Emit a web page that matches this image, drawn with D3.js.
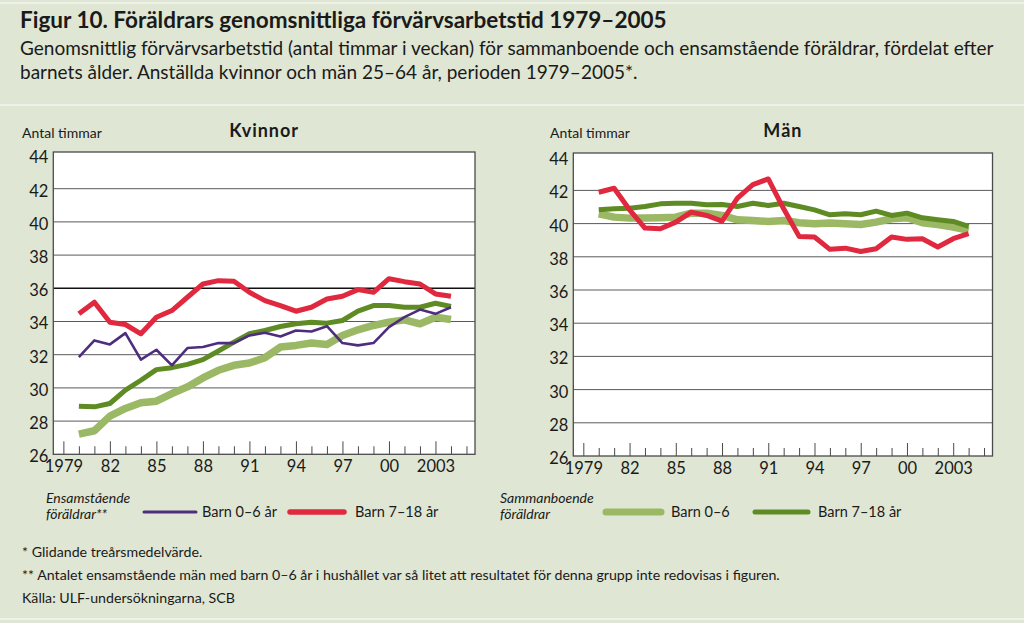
<!DOCTYPE html>
<html>
<head>
<meta charset="utf-8">
<script src="https://cdn.jsdelivr.net/npm/d3@7"></script>
<style>
  html, body { margin: 0; padding: 0; background: #dfe6d3; }
  svg { display: block; font-family: Lato, "Open Sans", sans-serif; }
</style>
</head>
<body>
<svg id="chart" width="1024" height="623"></svg>
<script>
// ---------- DATA ----------
const years = [1980,1981,1982,1983,1984,1985,1986,1987,1988,1989,1990,1991,1992,1993,1994,1995,1996,1997,1998,1999,2000,2001,2002,2003,2004];
const tickYears = [1979,1980,1981,1982,1983,1984,1985,1986,1987,1988,1989,1990,1991,1992,1993,1994,1995,1996,1997,1998,1999,2000,2001,2002,2003,2004,2005];
const labelYears = [1979,1982,1985,1988,1991,1994,1997,2000,2003];
const labelTexts = ["1979","82","85","88","91","94","97","00","2003"];
const yTicks = [26,28,30,32,34,36,38,40,42,44];

// Kvinnor
const kvEnsam06  = [31.86,32.86,32.62,33.30,31.70,32.30,31.36,32.40,32.46,32.70,32.70,33.16,33.32,33.10,33.46,33.40,33.72,32.70,32.56,32.70,33.66,34.26,34.72,34.46,34.86];
const kvEnsam718 = [34.46,35.16,33.96,33.82,33.26,34.26,34.66,35.46,36.26,36.46,36.42,35.76,35.26,34.96,34.62,34.86,35.36,35.52,35.92,35.76,36.58,36.40,36.26,35.66,35.52];
const kvSamman06 = [27.22,27.42,28.30,28.76,29.10,29.20,29.66,30.06,30.60,31.06,31.36,31.50,31.82,32.46,32.56,32.70,32.62,33.16,33.50,33.76,33.96,34.10,33.86,34.26,34.12];
const kvSamman718= [28.90,28.86,29.06,29.86,30.46,31.10,31.22,31.42,31.70,32.22,32.76,33.26,33.46,33.70,33.86,33.96,33.90,34.06,34.62,34.96,34.96,34.86,34.86,35.10,34.90];

// Män
const maEnsam718 = [41.89,42.13,40.83,39.73,39.69,40.09,40.69,40.49,40.15,41.53,42.35,42.69,40.89,39.23,39.19,38.45,38.52,38.32,38.48,39.19,39.05,39.09,38.59,39.09,39.39];
const maSamman06 = [40.59,40.39,40.33,40.33,40.35,40.39,40.63,40.63,40.49,40.23,40.19,40.13,40.19,40.05,39.99,40.03,39.99,39.95,40.09,40.29,40.35,40.05,39.95,39.79,39.59];
const maSamman718= [40.83,40.89,40.93,41.03,41.19,41.23,41.23,41.13,41.15,41.03,41.23,41.09,41.23,41.03,40.83,40.53,40.59,40.53,40.75,40.49,40.63,40.35,40.23,40.13,39.83];

const titleText = "Figur 10. Föräldrars genomsnittliga förvärvsarbetstid 1979–2005";
const subtitleLines = [
  "Genomsnittlig förvärvsarbetstid (antal timmar i veckan) för sammanboende och ensamstående föräldrar, fördelat efter",
  "barnets ålder. Anställda kvinnor och män 25–64 år, perioden 1979–2005*."
];
const footnotes = [
  "* Glidande treårsmedelvärde.",
  "** Antalet ensamstående män med barn 0–6 år i hushållet var så litet att resultatet för denna grupp inte redovisas i figuren.",
  "Källa: ULF-undersökningarna, SCB"
];

// ---------- STYLES ----------
const C = {
  purple: "#4e2d7f",
  red: "#e0283f",
  light: "#9bb865",
  dark: "#5f8b24",
  grid: "#5a5a5a",
  frame: "#4a4a4a",
  text: "#1a1a1a"
};
const W = { light: 7.5, dark: 5, red: 5, purple: 2.6 };

const svg = d3.select("#chart");

// background separators
svg.append("rect").attr("x",0).attr("y",0).attr("width",1024).attr("height",623).attr("fill","#dfe6d3");
svg.append("rect").attr("x",0).attr("y",2).attr("width",1024).attr("height",2).attr("fill","#edf1e7");
svg.append("rect").attr("x",0).attr("y",104).attr("width",1024).attr("height",2).attr("fill","#eef2e8");
svg.append("rect").attr("x",0).attr("y",618).attr("width",1024).attr("height",2).attr("fill","#edf1e7");

// titles
svg.append("text").attr("x",20).attr("y",28)
  .attr("font-size",22.5).attr("font-weight",700).attr("fill",C.text).text(titleText);
subtitleLines.forEach((t,i)=>{
  svg.append("text").attr("x",20).attr("y",55 + i*24)
    .attr("font-size",19).attr("fill",C.text).text(t);
});

// ---------- PANELS ----------
function panel(opt) {
  const g = svg.append("g");
  const x = d3.scaleLinear().domain([1978.35, 2005.55]).range([opt.left, opt.right]);
  const y = d3.scaleLinear().domain([26, 44]).range([opt.bottom, opt.bottom - 18*16.6]);
  const frameTop = opt.top;

  g.append("rect").attr("x",opt.left).attr("y",frameTop)
    .attr("width",opt.right-opt.left).attr("height",opt.bottom-frameTop)
    .attr("fill","#ffffff");

  // gridlines
  g.selectAll("line.grid").data(yTicks.filter(v=>v>26 && v<44)).enter().append("line")
    .attr("x1",opt.left).attr("x2",opt.right)
    .attr("y1",d=>y(d)).attr("y2",d=>y(d))
    .attr("stroke",d=> (opt.darkLine===d) ? "#111" : C.grid)
    .attr("stroke-width",d=> (opt.darkLine===d) ? 1.5 : 1);

  // y-axis labels
  const yAxis = d3.axisLeft(y).tickValues(yTicks).tickSize(0).tickPadding(5).tickFormat(d3.format("d"));
  const ya = g.append("g").attr("transform",`translate(${opt.left},0)`).call(yAxis);
  ya.select(".domain").remove();
  ya.selectAll("text").attr("font-size",16.5).attr("font-family","Lato").attr("fill",C.text).attr("dy","0.45em");

  // x ticks (upward from bottom)
  const xa = g.append("g").attr("transform",`translate(0,${opt.bottom})`)
    .call(d3.axisTop(x).tickValues(tickYears).tickSize(8).tickFormat(""));
  xa.select(".domain").remove();
  xa.selectAll(".tick line").attr("stroke",C.frame).attr("stroke-width",1)
    .attr("y2",d=> labelYears.includes(d) ? -13 : -8);

  // x labels
  const xl = g.append("g").attr("transform",`translate(0,${opt.bottom})`)
    .call(d3.axisBottom(x).tickValues(labelYears).tickSize(0).tickPadding(4)
      .tickFormat((d,i)=>labelTexts[i]));
  xl.select(".domain").remove();
  xl.selectAll("text").attr("font-size",16.5).attr("font-family","Lato").attr("fill",C.text).attr("dy","0.85em");

  // lines
  const line = d3.line().x((d,i)=>x(years[i])).y(d=>y(d)).curve(d3.curveLinear);
  opt.series.forEach(s=>{
    g.append("path").datum(s.values).attr("d",line)
      .attr("fill","none").attr("stroke",s.color).attr("stroke-width",s.width)
      .attr("stroke-linejoin","round").attr("stroke-linecap","butt");
  });

  // frame
  g.append("rect").attr("x",opt.left).attr("y",frameTop)
    .attr("width",opt.right-opt.left).attr("height",opt.bottom-frameTop)
    .attr("fill","none").attr("stroke",C.frame).attr("stroke-width",1.3);

  // labels
  g.append("text").attr("x",opt.unitX).attr("y",138).attr("font-size",14).attr("fill",C.text).text("Antal timmar");
  g.append("text").attr("x",(opt.left+opt.right)/2).attr("y",137).attr("text-anchor","middle")
    .attr("font-size",18).attr("font-weight",700).attr("letter-spacing",1).attr("fill",C.text).text(opt.title);
}

panel({
  left: 53.3, right: 475, top: 152, bottom: 454.3, unitX: 22, title: "Kvinnor", darkLine: 36,
  series: [
    {values: kvSamman06, color: C.light, width: W.light},
    {values: kvSamman718, color: C.dark, width: W.dark},
    {values: kvEnsam718, color: C.red, width: W.red},
    {values: kvEnsam06, color: C.purple, width: W.purple}
  ]
});
panel({
  left: 573.3, right: 992.5, top: 153, bottom: 456, unitX: 550, title: "Män", darkLine: null,
  series: [
    {values: maSamman06, color: C.light, width: W.light},
    {values: maSamman718, color: C.dark, width: W.dark},
    {values: maEnsam718, color: C.red, width: W.red}
  ]
});

// ---------- LEGEND ----------
const lg = svg.append("g");
function legendGroup(x0, l1, l2) {
  lg.append("text").attr("x",x0).attr("y",503).attr("font-size",14).attr("font-style","italic").attr("fill",C.text).text(l1);
  lg.append("text").attr("x",x0).attr("y",519).attr("font-size",14).attr("font-style","italic").attr("fill",C.text).text(l2);
}
function legendItem(x1, x2, color, width, label, tx) {
  lg.append("line").attr("x1",x1).attr("x2",x2).attr("y1",512).attr("y2",512)
    .attr("stroke",color).attr("stroke-width",width).attr("stroke-linecap","round");
  lg.append("text").attr("x",tx).attr("y",517).attr("font-size",14.5).attr("fill",C.text).text(label);
}
legendGroup(46, "Ensamstående", "föräldrar**");
legendItem(144, 196, C.purple, 3, "Barn 0–6 år", 202);
legendItem(290, 344, C.red, 5.5, "Barn 7–18 år", 355);
legendGroup(500, "Sammanboende", "föräldrar");
legendItem(606, 661, C.light, 7, "Barn 0–6", 671);
legendItem(755, 808, C.dark, 5, "Barn 7–18 år", 818);

// ---------- FOOTNOTES ----------
footnotes.forEach((t,i)=>{
  svg.append("text").attr("x",22).attr("y",557 + i*23).attr("font-size",14.2).attr("fill",C.text).text(t);
});
</script>
</body>
</html>
